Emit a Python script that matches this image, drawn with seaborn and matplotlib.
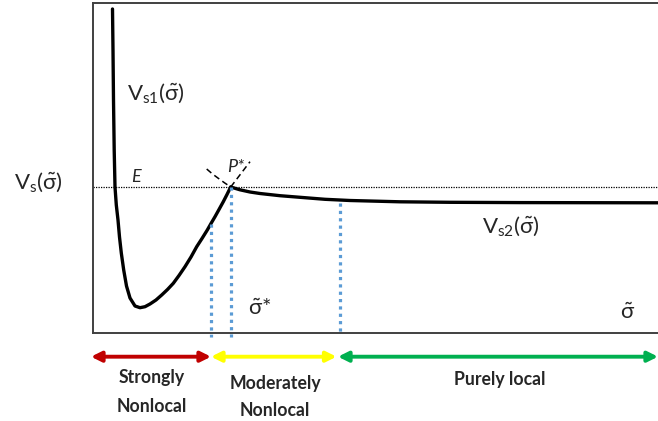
import numpy as np
import pandas as pd
import matplotlib
matplotlib.use("Agg")
import matplotlib.pyplot as plt
import seaborn as sns

# Effective potential, inner (nonlocal) branch V_s1
sigma_s1 = [19.5, 20.0, 20.5, 21.2, 22.0, 23.3, 25.0, 26.5, 28.3, 30.7,
            33.5, 37.0, 42.0, 47.0, 52.0, 57.0, 63.0, 68.7, 74.5, 80.3,
            86.0, 92.0, 98.0, 103.7, 109.0, 114.3, 118.0, 122.0, 126.0,
            130.3, 134.0, 137.7]
v_s1 = [324, 283, 233, 183, 146, 128, 113, 96, 80, 63,
        47, 35, 27, 25.3, 26.3, 29, 33, 38, 43.5, 49.7,
        57.5, 66.3, 76, 86.3, 94.5, 103, 109.5, 116.3, 123.5,
        131.3, 138.5, 146]

# Outer (local) branch V_s2
sigma_s2 = [137.7, 147, 157, 167, 187, 207, 232, 257, 307, 357, 427, 565]
v_s2 = [146, 143.2, 141, 139.5, 137.3, 135.7, 133.7, 132.5, 131.2, 130.7,
        130.4, 130.2]

# Dashed continuations through the crossing point P*
sigma_s2_ext = [113.7, 119.5, 125.3, 131.5, 137.7]
v_s2_ext = [164, 159, 154.7, 150.2, 146]
sigma_s1_ext = [137.7, 157]
v_s1_ext = [146, 171.3]

energy_E = 146
sigma_star = 137.7
sigma_inner = 118
sigma_outer = 247

# Regimes along the sigma axis
regime_lines = [("Strongly", "Nonlocal"), ("Moderately", "Nonlocal"),
                ("Purely local",)]
regime_bounds = [(-2, 118), (118, 243.5), (245, 565)]
regime_colors = ["#C00000", "#FFFF00", "#00B050"]

sns.set_theme(style="white")
plt.rcParams["font.family"] = ["Lato", "DejaVu Sans"]
plt.rcParams["mathtext.fontset"] = "custom"
plt.rcParams["mathtext.rm"] = "Lato"
plt.rcParams["mathtext.it"] = "Lato:italic"
plt.rcParams["mathtext.bf"] = "Lato:bold"

fig = plt.figure(figsize=(6.58, 4.21), dpi=100)
ax = fig.add_axes([93 / 658, 88 / 421, 1 - 93 / 658, 330 / 421])
ax.set_xlim(0, 565)
ax.set_ylim(0, 330)

df1 = pd.DataFrame({"sigma": sigma_s1, "V": v_s1})
df2 = pd.DataFrame({"sigma": sigma_s2, "V": v_s2})
sns.lineplot(data=df1, x="sigma", y="V", ax=ax, color="black", lw=2.4,
             sort=False, estimator=None)
sns.lineplot(data=df2, x="sigma", y="V", ax=ax, color="black", lw=2.4,
             sort=False, estimator=None)
ax.plot(sigma_s2_ext, v_s2_ext, color="black", lw=1.1, ls=(0, (4, 2.5)))
ax.plot(sigma_s1_ext, v_s1_ext, color="black", lw=1.1, ls=(0, (4, 2.5)))

# Energy level
ax.axhline(energy_E, color="black", lw=0.9, ls=(0, (1, 1)))

# Regime boundaries
i_min = int(np.argmin(v_s1))
top_inner = np.interp(sigma_inner, sigma_s1[i_min:], v_s1[i_min:])
top_outer = np.interp(sigma_outer, sigma_s2, v_s2) - 3
blue = "#5B9BD5"
dot = (0, (1, 1.3))
ax.plot([sigma_inner, sigma_inner], [top_inner, -4], color=blue, lw=2.3,
        ls=dot, clip_on=False)
ax.plot([sigma_star, sigma_star], [energy_E, -4], color=blue, lw=2.3,
        ls=dot, clip_on=False)
ax.plot([sigma_outer, sigma_outer], [top_outer, 0], color=blue, lw=2.3,
        ls=dot, clip_on=False)

# Labels on the plot
fs = 16
ax.text(34, 240, r"$\mathrm{V_{s1}(\tilde{\sigma})}$", fontsize=fs,
        ha="left", va="center")
ax.text(418, 107, r"$\mathrm{V_{s2}(\tilde{\sigma})}$", fontsize=fs,
        ha="center", va="center")
ax.text(38, 156, "E", fontsize=13, style="italic", ha="left", va="center")
ax.text(143, 166, "P*", fontsize=13, style="italic", ha="center",
        va="center")
ax.text(167, 24, r"$\mathrm{\tilde{\sigma}}$*", fontsize=fs, ha="center",
        va="center")
ax.text(535, 20, r"$\mathrm{\tilde{\sigma}}$", fontsize=fs, ha="center",
        va="center")
fig.text(38 / 658, 1 - 182 / 421, r"$\mathrm{V_{s}(\tilde{\sigma})}$",
         fontsize=fs, ha="center", va="center")

# Regime arrows and names below the axis
arrow_y = -23.7
label_pos = [(58.5, -45), (182, -50), (407, -47)]
line_gap = 28
for lines, (x0, x1), col, (lx, ly) in zip(regime_lines, regime_bounds,
                                          regime_colors, label_pos):
    ax.annotate("", xy=(x1, arrow_y), xytext=(x0, arrow_y),
                annotation_clip=False,
                arrowprops=dict(arrowstyle="<|-|>", color=col, lw=2.8,
                                mutation_scale=15, shrinkA=0, shrinkB=0))
    for k, line in enumerate(lines):
        ax.text(lx, ly - k * line_gap, line, fontsize=12.7,
                fontweight="bold", ha="center", va="center")

ax.set_xticks([])
ax.set_yticks([])
ax.set_xlabel("")
ax.set_ylabel("")
for side in ["left", "top", "bottom"]:
    ax.spines[side].set_color("#404040")
    ax.spines[side].set_linewidth(1.4)
ax.spines["right"].set_visible(False)

fig.savefig("out.png", dpi=100)
